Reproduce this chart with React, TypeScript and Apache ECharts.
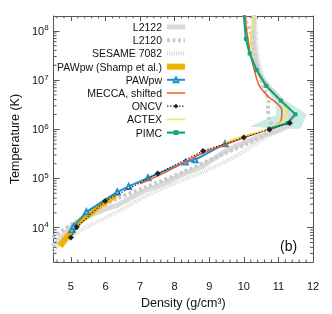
import React, { useEffect, useRef } from "react";
import * as echarts from "echarts";

// ---- data: [density (g/cm3), temperature (K)] ----
const L2122: number[][] = [[4.47,4.2e3],[4.75,6.6e3],[5.03,1.05e4],[5.45,1.65e4],[6.01,2.4e4],[6.35,2.9e4],[7.14,5.7e4],[7.56,7.2e4],[8.26,1.24e5],[8.82,1.79e5],[9.47,3.6e5],[10.23,6.2e5],[10.79,8.5e5],[11.21,1.12e6],[11.35,1.61e6],[11.24,2.79e6],[10.93,5.1e6],[10.57,9.6e6],[10.37,2.19e7],[10.29,5.5e7],[10.29,2.1e8]];
const L2120: number[][] = [[4.47,6.3e3],[4.75,8.7e3],[5.06,1.2e4],[5.59,2.0e4],[6.29,3.8e4],[7.14,6.5e4],[8.26,1.36e5],[9.39,3.1e5],[10.23,5.6e5],[10.6,7.6e5],[10.88,1.03e6],[10.74,1.54e6],[10.70,2.79e6],[10.72,3.8e6],[10.65,5.2e6],[10.37,2.0e7],[10.23,8.0e7],[10.04,1.72e8],[10.0,2.1e8]];
const SESAME7082: number[][] = [[4.47,3.3e3],[4.89,5.5e3],[5.31,9.1e3],[5.87,1.44e4],[6.29,2.0e4],[7.14,4.3e4],[7.98,7.9e4],[8.82,1.36e5],[9.67,2.6e5],[10.68,7.1e5],[11.21,1.07e6],[11.45,1.5e6],[11.38,2.2e6],[11.1,3.5e6],[10.8,6.0e6],[10.55,1.2e7],[10.4,3.0e7],[10.33,2.1e8]];
const PAWPW_SHAMP: number[][] = [[4.69,4.2e3],[4.83,5.8e3],[5.0,8.0e3],[5.22,1.26e4],[5.51,1.81e4],[5.87,2.9e4],[6.29,4.5e4]];
const PAWPW: number[][] = [[5.03,9.1e3],[5.08,1.06e4],[5.45,2.1e4],[6.34,5.3e4],[6.67,6.9e4],[7.23,1.03e5],[8.31,2.15e5],[8.59,2.4e5],[9.46,5.1e5]];
const MECCA: number[][] = [[7.0,7.8e4],[7.7,1.3e5],[8.82,3.3e5],[9.47,4.9e5],[10.09,7.1e5],[10.57,9.3e5],[10.85,1.12e6],[11.07,1.47e6],[11.10,2.43e6],[10.96,3.35e6],[10.74,4.4e6],[10.45,7.6e6],[10.29,1.74e7],[10.20,3.16e7],[10.12,6.9e7],[10.06,1.37e8],[10.05,2.1e8]];
const ONCV: number[][] = [[5.0,6.3e3],[5.17,1.03e4],[5.99,3.5e4],[7.51,1.26e5],[8.82,3.6e5],[10.0,6.8e5],[10.74,9.9e5],[11.33,1.34e6]];
const ACTEX: number[][] = [[9.47,5.4e5],[9.81,6.7e5],[10.23,8.1e5],[10.65,9.7e5],[10.96,1.22e6],[11.18,1.61e6],[11.24,2.32e6],[11.07,3.7e6],[10.79,6.1e6],[10.45,1.21e7],[10.26,2.5e7],[10.20,5.5e7],[10.23,1.09e8],[10.31,2.1e8]];
const PIMC: number[][] = [[10.0,2.1e8],[10.06,6.9e7],[10.17,3.46e7],[10.37,1.59e7],[10.65,7.6e6],[11.07,3.8e6],[11.49,2.02e6],[11.27,1.34e6],[10.74,1.02e6]];
const PIMC_BAND: number[][] = [[10.59,9.6e6],[11.21,3.8e6],[11.83,2.02e6],[11.63,1.02e6],[11.13,1.02e6],[10.17,1.12e6],[10.45,1.4e6],[10.93,1.93e6],[10.93,3.06e6],[10.74,5.5e6]];

const LEGEND_NAMES = ["L2122", "L2120", "SESAME 7082", "PAWpw (Shamp et al.)", "PAWpw", "MECCA, shifted", "ONCV", "ACTEX", "PIMC"];

const X_MIN = 4.5;
const X_MAX = 12;
const Y_MIN = 2000;
const Y_MAX = 2e8;

// minor tick positions
const X_MINOR: number[] = [];
for (let i = 23; i <= 59; i++) if (i % 5 !== 0) X_MINOR.push(Math.round(i * 2) / 10);
const Y_MINOR: number[] = [];
for (const d of [1e3, 1e4, 1e5, 1e6, 1e7, 1e8]) {
  for (const m of [2, 3, 4, 5, 6, 7, 8, 9]) {
    const v = d * m;
    if (v > Y_MIN && v < Y_MAX) Y_MINOR.push(v);
  }
}

const FONT = "'Liberation Sans', Arial, Helvetica, sans-serif";
const AX = "#555";
const TXT = "#111";

// styles per series (name -> line style / marker)
const STYLES: Record<string, any> = {
  "L2122": { color: "#d9d9d9", width: 5, type: "solid" },
  "L2120": { color: "#cbcbcb", width: 4, type: [3, 2.5] },
  "SESAME 7082": { color: "#d6d6d6", width: 4, type: [1, 1.3] },
  "PAWpw (Shamp et al.)": { color: "#f0b100", width: 6, type: "solid" },
  "PAWpw": { color: "#1f8ecf", width: 2, type: "solid", marker: true },
  "MECCA, shifted": { color: "#f2572b", width: 1.5, type: "solid" },
  "ONCV": { color: "#333333", width: 1.2, type: [1.5, 1.5], marker: true },
  "ACTEX": { color: "#f6e45a", width: 1.6, type: "solid" },
  "PIMC": { color: "#13a37e", width: 2.2, type: "solid", marker: true },
};

export default function App() {
  const ref = useRef<HTMLDivElement>(null);

  useEffect(() => {
    if (!ref.current) return;
    const chart = echarts.init(ref.current, null, { renderer: "svg" });

    const supFormatter = (v: number) => {
      const e = Math.log10(v);
      const r = Math.round(e);
      return Math.abs(e - r) < 1e-6 ? `10{s|${r}}` : "";
    };

    const line = (name: string, data: number[][], extra: any) => {
      const s = STYLES[name];
      return {
        type: "line",
        name,
        data,
        xAxisIndex: 0,
        yAxisIndex: 0,
        showSymbol: false,
        symbol: "none",
        clip: true,
        lineStyle: { color: s.color, width: s.width, type: s.type },
        itemStyle: { color: s.color },
        ...extra,
      };
    };

    const option: any = {
      animation: false,
      textStyle: { fontFamily: FONT },
      grid: { left: 46, right: 19, top: 16, bottom: 46, containLabel: false },
      legend: {
        orient: "vertical",
        right: 144,
        top: 21.5,
        align: "right",
        itemWidth: 18,
        itemHeight: 6,
        itemGap: 2.2,
        padding: 0,
        selectedMode: false,
        textStyle: { fontSize: 10.5, color: TXT, fontFamily: FONT },
        data: LEGEND_NAMES.map((n) => {
          const s = STYLES[n];
          const item: any = {
            name: n,
            lineStyle: { color: s.color, width: s.width, type: s.type },
          };
          if (!s.marker) item.itemStyle = { opacity: 0 };
          return item;
        }),
      },
      xAxis: [
        {
          type: "value",
          min: X_MIN,
          max: X_MAX,
          splitNumber: 7,
          position: "bottom",
          name: "Density (g/cm³)",
          nameLocation: "middle",
          nameGap: 33,
          nameTextStyle: { fontSize: 12.5, color: TXT, fontFamily: FONT },
          axisLine: { show: true, onZero: false, lineStyle: { color: AX, width: 1 } },
          axisTick: { show: true, inside: true, length: 5, lineStyle: { color: AX } },
          axisLabel: {
            fontSize: 11,
            color: TXT,
            margin: 18,
            fontFamily: FONT,
            formatter: (v: number) => (Math.abs(v - Math.round(v)) < 1e-6 ? String(Math.round(v)) : ""),
          },
          splitLine: { show: false },
        },
        {
          type: "value",
          min: X_MIN,
          max: X_MAX,
          splitNumber: 7,
          position: "top",
          axisLine: { show: true, onZero: false, lineStyle: { color: AX, width: 1 } },
          axisTick: { show: true, inside: true, length: 5, lineStyle: { color: AX } },
          axisLabel: { show: false },
          splitLine: { show: false },
        },
      ],
      yAxis: [
        {
          type: "log",
          logBase: 10,
          min: Y_MIN,
          max: Y_MAX,
          position: "left",
          name: "Temperature (K)",
          nameLocation: "middle",
          nameGap: 22,
          nameTextStyle: { fontSize: 12.5, color: TXT, fontFamily: FONT },
          axisLine: { show: true, onZero: false, lineStyle: { color: AX, width: 1 } },
          axisTick: { show: true, inside: true, length: 6, lineStyle: { color: AX } },
          axisLabel: {
            fontSize: 11,
            color: TXT,
            margin: 5,
            lineHeight: 14,
            fontFamily: FONT,
            formatter: supFormatter,
            rich: { s: { fontSize: 8, lineHeight: 8, verticalAlign: "top", fontFamily: FONT, color: TXT } },
          },
          splitLine: { show: false },
          minorTick: { show: false },
        },
        {
          type: "log",
          logBase: 10,
          min: Y_MIN,
          max: Y_MAX,
          position: "right",
          axisLine: { show: true, onZero: false, lineStyle: { color: AX, width: 1 } },
          axisTick: { show: true, inside: true, length: 6, lineStyle: { color: AX } },
          axisLabel: { show: false },
          splitLine: { show: false },
        },
      ],
      series: [
        {
          type: "custom",
          name: "PIMC band",
          silent: true,
          z: 1,
          xAxisIndex: 0,
          yAxisIndex: 0,
          data: [PIMC_BAND[0]],
          renderItem: (_p: any, api: any) => ({
            type: "polygon",
            shape: { points: PIMC_BAND.map((pt) => api.coord(pt)) },
            style: { fill: "rgba(120, 210, 185, 0.4)", stroke: "none" },
          }),
        },
        line("L2122", L2122, { smooth: 0.3, z: 2 }),
        line("L2120", L2120, { smooth: 0.3, z: 3 }),
        line("SESAME 7082", SESAME7082, { smooth: 0.3, z: 3 }),
        line("PAWpw (Shamp et al.)", PAWPW_SHAMP, { smooth: 0.3, z: 4 }),
        line("PAWpw", PAWPW, {
          z: 5,
          showSymbol: true,
          symbol: "emptyTriangle",
          symbolSize: 5,
          itemStyle: { color: "#1f8ecf", borderWidth: 1.2 },
        }),
        line("MECCA, shifted", MECCA, { smooth: 0.3, z: 6 }),
        line("ACTEX", ACTEX, { smooth: 0.3, z: 7 }),
        line("PIMC", PIMC, {
          z: 8,
          showSymbol: true,
          symbol: "rect",
          symbolSize: 4,
        }),
        line("ONCV", ONCV, {
          z: 9,
          showSymbol: true,
          symbol: "diamond",
          symbolSize: 6,
          itemStyle: { color: "#222" },
        }),
        {
          type: "custom",
          name: "x minor ticks",
          silent: true,
          z: 10,
          clip: false,
          xAxisIndex: 0,
          yAxisIndex: 0,
          data: X_MINOR.map((v) => [v, Y_MIN]),
          renderItem: (_p: any, api: any) => {
            const v = api.value(0);
            const b = api.coord([v, Y_MIN]);
            const t = api.coord([v, Y_MAX]);
            const st = { stroke: AX, lineWidth: 1 };
            return {
              type: "group",
              children: [
                { type: "line", shape: { x1: b[0], y1: b[1], x2: b[0], y2: b[1] - 2.5 }, style: st },
                { type: "line", shape: { x1: t[0], y1: t[1], x2: t[0], y2: t[1] + 2.5 }, style: st },
              ],
            };
          },
        },
        {
          type: "custom",
          name: "y minor ticks",
          silent: true,
          z: 10,
          clip: false,
          xAxisIndex: 0,
          yAxisIndex: 0,
          data: Y_MINOR.map((v) => [X_MIN, v]),
          renderItem: (_p: any, api: any) => {
            const v = api.value(1);
            const l = api.coord([X_MIN, v]);
            const r = api.coord([X_MAX, v]);
            const st = { stroke: AX, lineWidth: 1 };
            return {
              type: "group",
              children: [
                { type: "line", shape: { x1: l[0], y1: l[1], x2: l[0] + 3, y2: l[1] }, style: st },
                { type: "line", shape: { x1: r[0], y1: r[1], x2: r[0] - 3, y2: r[1] }, style: st },
              ],
            };
          },
        },
      ],
      graphic: [
        {
          type: "text",
          left: 280,
          top: 239,
          style: { text: "(b)", fontSize: 14, fill: TXT, fontFamily: FONT },
        },
      ],
    };

    chart.setOption(option);
    return () => chart.dispose();
  }, []);

  return <div ref={ref} style={{ position: "fixed", left: 0, top: 0, width: 332, height: 314 }} />;
}
